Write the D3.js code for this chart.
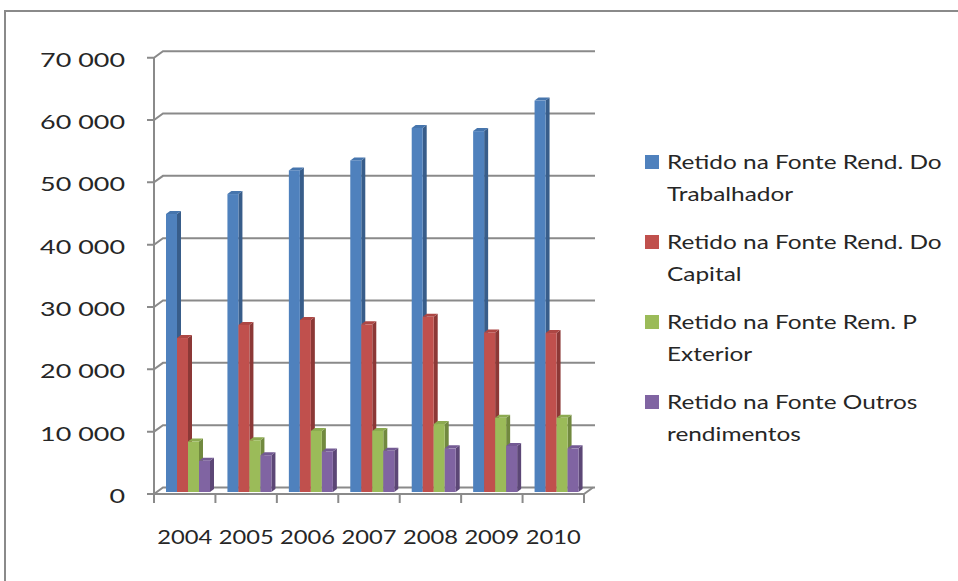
<!DOCTYPE html>
<html>
<head>
<meta charset="utf-8">
<script src="https://cdn.jsdelivr.net/npm/d3@7"></script>
<style>
  body { margin: 0; background: #fff; }
  text { font-family: "Lato", "Open Sans", sans-serif; fill: #262626; }
</style>
</head>
<body>
<div id="chart"></div>
<script>
var years = ["2004", "2005", "2006", "2007", "2008", "2009", "2010"];
var seriesNames = [
    ["Retido na Fonte Rend. Do", "Trabalhador"],
    ["Retido na Fonte Rend. Do", "Capital"],
    ["Retido na Fonte Rem. P", "Exterior"],
    ["Retido na Fonte Outros", "rendimentos"]
];
var trabalhador = [44600, 47800, 51600, 53200, 58400, 57900, 62800];
var capital = [24700, 26800, 27600, 26900, 28100, 25600, 25500];
var exterior = [8100, 8300, 9800, 9800, 10900, 11900, 11900];
var outros = [5000, 5900, 6500, 6600, 7000, 7400, 7000];
var yTicks = [0, 10000, 20000, 30000, 40000, 50000, 60000, 70000];

var seriesValues = [trabalhador, capital, exterior, outros];
var fronts = ["#4F81BD", "#C0504D", "#9BBB59", "#8064A2"];
var sides = ["#385D8A", "#8C3836", "#71893F", "#5C4776"];
var tops = ["#4675AD", "#AD4744", "#8CAA50", "#735A93"];

// width of a string at the given size, used to stretch text like the original
function measure(svg, str, size) {
    var t = svg.append("text").attr("font-size", size).text(str);
    var len = t.node().getComputedTextLength();
    t.remove();
    return len;
}

function chart() {
    var w = 958;
    var h = 581;
    var depthX = 9, depthY = -6.5;
    var barDX = 4, barDY = -3;
    var fs = 20;
    var grid = "#8A8A8A";

    var svg = d3.select("#chart")
        .append("svg")
        .attr("width", w)
        .attr("height", h);

    var yStretch = 85 / measure(svg, "70 000", fs);
    var xStretch = 55 / measure(svg, "2004", fs);
    var legStretch = 275 / measure(svg, "Retido na Fonte Rend. Do", fs);

    // outer frame
    svg.append("rect")
        .attr("x", 5).attr("y", 11)
        .attr("width", 970).attr("height", 600)
        .attr("fill", "none")
        .attr("stroke", grid)
        .attr("stroke-width", 2);

    var x = d3.scaleBand().domain(years).range([154, 584]);
    var xs = d3.scaleBand().domain(d3.range(4)).range([12, 56]);
    var yFront = d3.scaleLinear().domain([0, 70000]).range([494, 57.7]);
    var yBar = d3.scaleLinear().domain([0, 70000]).range([492, 55.7]);

    // back wall gridlines + left wall diagonals
    svg.selectAll("polyline.grid")
        .data(yTicks)
        .enter()
        .append("polyline")
        .attr("fill", "none")
        .attr("stroke", grid)
        .attr("stroke-width", 2)
        .attr("points", function(d) {
            var y = yFront(d);
            return [[147, y], [154, y], [154 + depthX, y + depthY], [584 + depthX + 2, y + depthY]].join(" ");
        });

    // floor
    svg.append("polyline")
        .attr("fill", "none")
        .attr("stroke", grid)
        .attr("stroke-width", 2)
        .attr("points", [[154, 494], [584, 494], [584 + depthX, 494 + depthY]].join(" "));

    // y axis line
    svg.append("line")
        .attr("x1", 154).attr("x2", 154)
        .attr("y1", yFront(70000)).attr("y2", 503)
        .attr("stroke", grid)
        .attr("stroke-width", 2);

    // x ticks
    var xTickPos = years.map(function(d) { return x(d); }).concat([584]);
    svg.selectAll("line.xtick")
        .data(xTickPos)
        .enter()
        .append("line")
        .attr("x1", function(d) { return d; })
        .attr("x2", function(d) { return d; })
        .attr("y1", 494).attr("y2", 503)
        .attr("stroke", grid)
        .attr("stroke-width", 2);

    // bars
    var bars = [];
    years.forEach(function(yr, i) {
        seriesValues.forEach(function(vals, s) {
            bars.push({ year: yr, s: s, v: vals[i] });
        });
    });

    var g = svg.selectAll("g.bar")
        .data(bars)
        .enter()
        .append("g");

    g.append("polygon")
        .attr("fill", function(d) { return sides[d.s]; })
        .attr("points", function(d) {
            var x0 = x(d.year) + xs(d.s) + xs.bandwidth();
            var yt = yBar(d.v), yb = yBar(0);
            return [[x0, yt], [x0 + barDX, yt + barDY], [x0 + barDX, yb + barDY], [x0, yb]].join(" ");
        });
    g.append("polygon")
        .attr("fill", function(d) { return tops[d.s]; })
        .attr("points", function(d) {
            var x0 = x(d.year) + xs(d.s);
            var x1 = x0 + xs.bandwidth();
            var yt = yBar(d.v);
            return [[x0, yt], [x0 + barDX, yt + barDY], [x1 + barDX, yt + barDY], [x1, yt]].join(" ");
        });
    g.append("rect")
        .attr("x", function(d) { return x(d.year) + xs(d.s); })
        .attr("y", function(d) { return yBar(d.v); })
        .attr("width", xs.bandwidth())
        .attr("height", function(d) { return yBar(0) - yBar(d.v); })
        .attr("fill", function(d) { return fronts[d.s]; });

    // y labels
    svg.selectAll("text.ylab")
        .data(yTicks)
        .enter()
        .append("text")
        .attr("text-anchor", "end")
        .attr("font-size", fs)
        .attr("transform", function(d) {
            return "translate(125," + (yFront(d) + 9) + ") scale(" + yStretch + ",1)";
        })
        .text(function(d) {
            return d3.format(",")(d).replace(/,/g, " ");
        });

    // x labels
    svg.selectAll("text.xlab")
        .data(years)
        .enter()
        .append("text")
        .attr("text-anchor", "middle")
        .attr("font-size", fs)
        .attr("transform", function(d) {
            return "translate(" + (x(d) + x.bandwidth() / 2) + ",544) scale(" + xStretch + ",1)";
        })
        .text(function(d) { return d; });

    // legend
    var leg = svg.selectAll("g.leg")
        .data(seriesNames)
        .enter()
        .append("g")
        .attr("transform", function(d, i) { return "translate(645," + (155 + i * 80) + ")"; });

    leg.append("rect")
        .attr("width", 14).attr("height", 14)
        .attr("fill", function(d, i) { return fronts[i]; });

    leg.selectAll("text")
        .data(function(d) { return d; })
        .enter()
        .append("text")
        .attr("font-size", fs)
        .attr("transform", function(d, j) {
            return "translate(22," + (14 + j * 32) + ") scale(" + legStretch + ",1)";
        })
        .text(function(d) { return d; });
}

window.onload = chart;
</script>
</body>
</html>
